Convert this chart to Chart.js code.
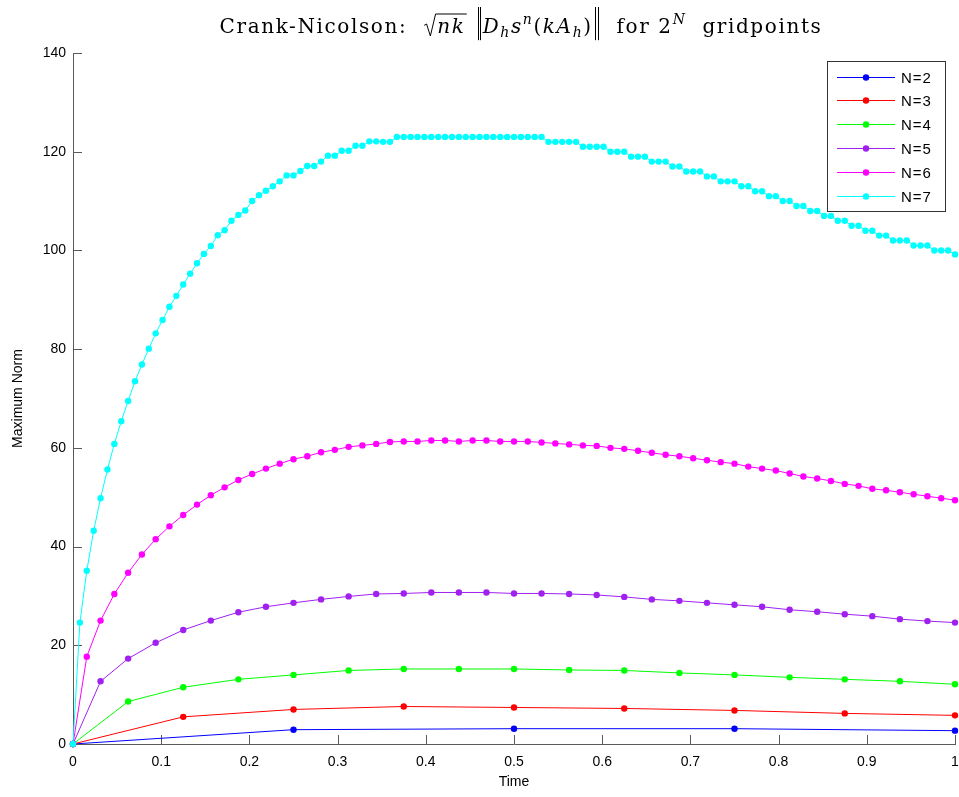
<!DOCTYPE html>
<html>
<head>
<meta charset="utf-8">
<script src="https://cdn.jsdelivr.net/npm/chart.js@4.4.1/dist/chart.umd.min.js"></script>
<style>
  html, body { margin:0; padding:0; background:#fff; }
  #wrap { position:relative; width:959px; height:797px; }
</style>
</head>
<body>
<div id="wrap"><canvas id="c" width="959" height="797"></canvas></div>
<script>
// max-norm history per grid size, sampled on the time grid 0..1
const SERIES_LABELS = ['N=2', 'N=3', 'N=4', 'N=5', 'N=6', 'N=7'];
const SERIES_COLORS = ['#0000ff', '#ff0000', '#00ff00', '#a020f0', '#ff00ff', '#00ffff'];

const normN2 = [0, 2.9, 3.1, 3.1, 2.7];
const normN3 = [0, 5.5, 7.0, 7.6, 7.4, 7.2, 6.8, 6.2, 5.8];
const normN4 = [0, 8.6, 11.5, 13.1, 14.0, 14.9, 15.2, 15.2, 15.2, 15.0, 14.9, 14.4, 14.0, 13.5, 13.1, 12.7, 12.1];
const normN5 = [0, 12.7, 17.3, 20.5, 23.1, 25.0, 26.7, 27.8, 28.6, 29.3, 29.9, 30.4, 30.5, 30.7, 30.7, 30.7,
  30.5, 30.5, 30.4, 30.2, 29.8, 29.3, 29.0, 28.6, 28.2, 27.8, 27.2, 26.8, 26.3, 25.9, 25.3, 24.9, 24.6];
const normN6 = [0, 17.7, 25.0, 30.4, 34.7, 38.4, 41.5, 44.1, 46.4, 48.5, 50.4, 52.0, 53.5, 54.7, 55.8, 56.8,
  57.7, 58.3, 59.1, 59.6, 60.2, 60.5, 60.8, 61.2, 61.3, 61.3, 61.5, 61.5, 61.3, 61.5, 61.5, 61.3,
  61.3, 61.3, 61.1, 60.9, 60.7, 60.5, 60.4, 60.0, 59.8, 59.4, 59.0, 58.6, 58.3, 57.9, 57.5, 57.1,
  56.8, 56.2, 55.8, 55.4, 54.8, 54.2, 53.8, 53.3, 52.7, 52.3, 51.7, 51.4, 51.0, 50.6, 50.2, 49.8, 49.4];
const normN7 = [0, 24.6, 35.1, 43.2, 49.8, 55.6, 60.8, 65.4, 69.5, 73.5, 76.9, 80.1, 83.2, 85.9, 88.6, 90.8,
  93.1, 95.3, 97.4, 99.3, 100.9, 103.1, 104.1, 106.0, 107.2, 108.1, 110.0, 111.2, 112.1, 113.0, 114.0, 115.2,
  115.2, 116.1, 117.1, 117.1, 118.0, 119.2, 119.2, 120.2, 120.2, 121.2, 121.2, 122.1, 122.1, 122, 122, 123,
  123, 123, 123, 123, 123, 123, 123, 123, 123, 123, 123, 123, 123, 123, 123, 123,
  123, 123, 123, 123, 123, 122, 122, 122, 122, 122, 121, 121, 121, 121, 120, 120,
  120, 119, 119, 119, 118, 118, 118, 117, 117, 116, 116, 116, 115, 115, 114, 114,
  114, 113, 113, 112, 112, 111, 111, 110, 110, 109, 109, 108, 108, 107, 107, 106,
  106, 105, 105, 104, 104, 103, 103, 102, 102, 102, 101, 101, 101, 100, 100, 100, 99.2];
const SERIES_VALUES = [normN2, normN3, normN4, normN5, normN6, normN7];

const X_TICKS = [0, 0.1, 0.2, 0.3, 0.4, 0.5, 0.6, 0.7, 0.8, 0.9, 1];
const Y_TICKS = [0, 20, 40, 60, 80, 100, 120, 140];

const AXIS_COLOR = '#5a5a5a';
const SANS = '"Liberation Sans", Arial, sans-serif';
const SERIF = '"DejaVu Serif", "Liberation Serif", serif';

// each series is sampled uniformly on [0,1]
function toPoints(vals){
  return vals.map((v, i) => ({ x: i / (vals.length - 1), y: v }));
}

const datasets = SERIES_VALUES.map((vals, i) => ({
  label: SERIES_LABELS[i],
  data: toPoints(vals),
  borderColor: SERIES_COLORS[i],
  backgroundColor: SERIES_COLORS[i],
  borderWidth: 1,
  pointRadius: 3.2,
  pointBorderWidth: 0,
  pointBackgroundColor: SERIES_COLORS[i],
  tension: 0,
  clip: false,
  order: SERIES_LABELS.length - i
}));

// matlab-style ticks pointing into the axes
const innerTicks = {
  id: 'innerTicks',
  beforeDatasetsDraw(chart){
    const { ctx, chartArea:a, scales:{ x, y } } = chart;
    ctx.save();
    ctx.strokeStyle = AXIS_COLOR;
    ctx.lineWidth = 1;
    ctx.beginPath();
    X_TICKS.forEach(v => {
      const px = Math.round(x.getPixelForValue(v)) + 0.5;
      ctx.moveTo(px, a.bottom); ctx.lineTo(px, a.bottom - 9);
    });
    Y_TICKS.forEach(v => {
      const py = Math.round(y.getPixelForValue(v)) + 0.5;
      ctx.moveTo(a.left, py); ctx.lineTo(a.left + 9, py);
    });
    ctx.stroke();
    ctx.restore();
  }
};

// boxed legend, line + marker per series
const boxLegend = {
  id: 'boxLegend',
  afterDraw(chart){
    const ctx = chart.ctx;
    const L = 827, T = 61, W = 118, H = 150, rowH = 23.8, firstRow = 76.5;
    ctx.save();
    ctx.fillStyle = '#fff';
    ctx.fillRect(L, T, W, H);
    ctx.strokeStyle = '#333';
    ctx.lineWidth = 1;
    ctx.strokeRect(L + 0.5, T + 0.5, W, H);
    ctx.font = '15px ' + SANS;
    ctx.textBaseline = 'middle';
    ctx.letterSpacing = '1px';
    SERIES_LABELS.forEach((lab, i) => {
      const yy = Math.round(firstRow + i * rowH) + 0.5;
      ctx.strokeStyle = SERIES_COLORS[i];
      ctx.beginPath(); ctx.moveTo(837, yy); ctx.lineTo(895, yy); ctx.stroke();
      ctx.fillStyle = SERIES_COLORS[i];
      ctx.beginPath(); ctx.arc(866, yy, 3.2, 0, Math.PI * 2); ctx.fill();
      ctx.fillStyle = '#000';
      ctx.fillText(lab, 901, yy + 1);
    });
    ctx.restore();
  }
};

// title with a bit of inline math: sqrt, sub/superscripts, norm bars
const TITLE_PARTS = [
  { s:'Crank-Nicolson:  ' },
  { root:'nk' },
  { s:' ' },
  { bars:true },
  { s:'D', it:true }, { s:'h', it:true, pos:'sub' },
  { s:'s', it:true }, { s:'n', it:true, pos:'sup' },
  { s:'(' }, { s:'kA', it:true }, { s:'h', it:true, pos:'sub' }, { s:')' },
  { bars:true },
  { s:'  for 2' }, { s:'N', it:true, pos:'sup' },
  { s:'  gridpoints' }
];

function partFont(p, size){
  const sz = p.pos ? size * 0.7 : size;
  return (p.it ? 'italic ' : '') + sz + 'px ' + SERIF;
}

function partWidth(ctx, p, size){
  if (p.bars) return size * 0.4;
  if (p.root){
    ctx.font = 'italic ' + size + 'px ' + SERIF;
    return size * 0.72 + ctx.measureText(p.root).width + size * 0.05;
  }
  ctx.font = partFont(p, size);
  return ctx.measureText(p.s).width;
}

const mathTitle = {
  id: 'mathTitle',
  afterDraw(chart){
    const ctx = chart.ctx;
    const wantWidth = 628, cx = 521, base = 33;
    ctx.save();
    const size = 20;
    let total = TITLE_PARTS.reduce((w, p) => w + partWidth(ctx, p, size), 0);
    // spread the remaining width thinly over the glyphs
    const nChars = TITLE_PARTS.reduce((n, p) => n + (p.s ? p.s.length : p.root ? 2 : 0), 0);
    const gap = Math.min(1.6, Math.max(0, (wantWidth - total) / nChars));
    ctx.letterSpacing = gap.toFixed(2) + 'px';
    total = TITLE_PARTS.reduce((w, p) => w + partWidth(ctx, p, size), 0);
    let xx = cx - total / 2;
    ctx.fillStyle = '#000';
    ctx.strokeStyle = '#000';
    ctx.textBaseline = 'alphabetic';
    TITLE_PARTS.forEach(p => {
      const w = partWidth(ctx, p, size);
      if (p.bars){
        ctx.lineWidth = 1;
        ctx.beginPath();
        [0.14, 0.28].forEach(f => {
          const bx = Math.round(xx + size * f) + 0.5;
          ctx.moveTo(bx, base - size * 1.3); ctx.lineTo(bx, base + size * 0.36);
        });
        ctx.stroke();
      } else if (p.root){
        ctx.font = 'italic ' + size + 'px ' + SERIF;
        const top = base - size * 0.95;
        ctx.lineWidth = 1;
        ctx.beginPath();
        ctx.moveTo(xx + size * 0.05, base - size * 0.38);
        ctx.lineTo(xx + size * 0.17, base - size * 0.45);
        ctx.lineTo(xx + size * 0.36, base + size * 0.15);
        ctx.lineTo(xx + size * 0.62, top);
        ctx.lineTo(xx + w, top);
        ctx.stroke();
        ctx.fillText(p.root, xx + size * 0.7, base);
      } else {
        ctx.font = partFont(p, size);
        let dy = 0;
        if (p.pos === 'sub') dy = size * 0.22;
        if (p.pos === 'sup') dy = -size * 0.45;
        ctx.fillText(p.s, xx, base + dy);
      }
      xx += w;
    });
    ctx.restore();
  }
};

new Chart(document.getElementById('c'), {
  type: 'line',
  data: { datasets },
  options: {
    responsive: false,
    animation: false,
    layout: { padding: { top: 53, right: 4, left: 0, bottom: 0 } },
    plugins: { legend: { display:false }, tooltip: { enabled:false }, title: { display:false } },
    scales: {
      x: {
        type: 'linear', min: 0, max: 1,
        afterBuildTicks: s => { s.ticks = X_TICKS.map(v => ({ value: v })); },
        afterFit: s => { s.height = 53; s.paddingLeft = 0; s.paddingRight = 0; },
        grid: { display:false, drawTicks:false },
        border: { display:true, color: AXIS_COLOR, width: 1 },
        ticks: { color:'#000', font:{ family: SANS, size: 14 }, padding: 10, maxRotation: 0,
                 callback: v => String(+v.toFixed(1)) },
        title: { display:true, text:'Time', color:'#000', font:{ family: SANS, size: 14 }, padding:{ top:0, bottom:6 } }
      },
      y: {
        type: 'linear', min: 0, max: 140,
        afterBuildTicks: s => { s.ticks = Y_TICKS.map(v => ({ value: v })); },
        afterFit: s => { s.width = 73; s.paddingTop = 0; s.paddingBottom = 0; },
        grid: { display:false, drawTicks:false },
        border: { display:true, color: AXIS_COLOR, width: 1 },
        ticks: { color:'#000', font:{ family: SANS, size: 14 }, padding: 7 },
        title: { display:true, text:'Maximum Norm', color:'#000', font:{ family: SANS, size: 14 }, padding:{ top:10, bottom:0 } }
      }
    }
  },
  plugins: [innerTicks, boxLegend, mathTitle]
});
</script>
</body>
</html>
